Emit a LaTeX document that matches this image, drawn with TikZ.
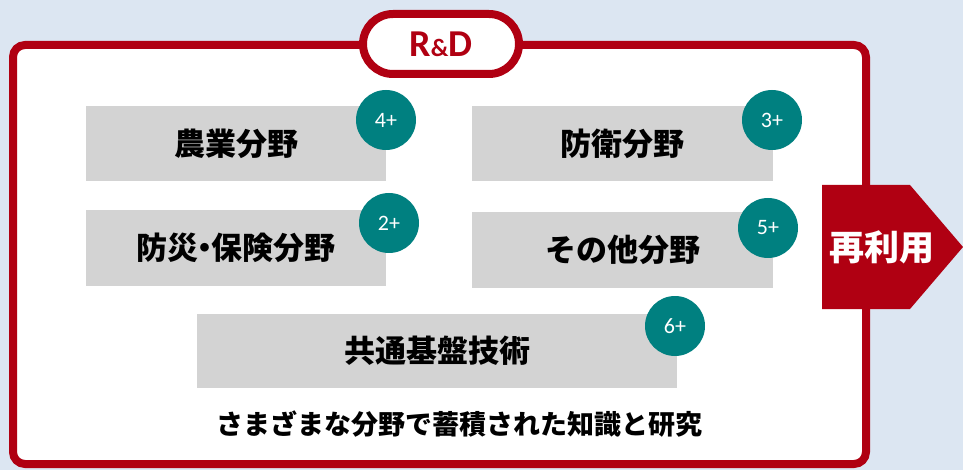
\documentclass[tikz,border=0pt]{standalone}
\usepackage{fontspec}
\newfontfamily\jp{Noto Sans CJK JP}
\newfontfamily\lat{Carlito}
\definecolor{bgblue}{HTML}{DCE6F2}
\definecolor{rdred}{HTML}{B00012}
\definecolor{boxgray}{HTML}{D3D3D3}
\definecolor{teal2}{HTML}{008080}
\begin{document}
\begin{tikzpicture}[x=1pt,y=-1pt,
  field/.style={fill=boxgray,draw=none,inner sep=0pt,font=\jp\bfseries\fontsize{31}{33}\selectfont,text=black},
  badge/.style={circle,fill=teal2,draw=none,minimum size=60pt,inner sep=0pt,text=white,font=\lat\fontsize{22}{24}\selectfont}]
\fill[bgblue] (0,0) rectangle (963,470);
\useasboundingbox (0,0) rectangle (963,470);
% outer frame
\draw[rdred,line width=8pt,fill=white,rounded corners=12pt] (13,45) rectangle (866,464);
% reuse arrow
\fill[rdred] (822,185) -- (910,185) -- (963,247) -- (910,309) -- (822,309) -- cycle;
\node[text=white,font=\jp\bfseries\fontsize{35}{37}\selectfont] (reuse) at (882,247) {再利用};
% R&D pill
\node[draw=rdred,line width=8pt,fill=white,rounded corners=30pt,minimum width=156pt,minimum height=60pt,inner sep=0pt,
  text=rdred,font=\lat\bfseries\fontsize{38}{40}\selectfont] (rd) at (441,44) {R{\fontsize{25}{27}\selectfont\&}D};
% fields
\node[field,minimum width=300pt,minimum height=75pt] (agri) at (236,143.5) {農業分野};
\node[field,minimum width=301pt,minimum height=75pt] (def) at (622.5,143.5) {防衛分野};
\node[field,minimum width=300pt,minimum height=76pt] (dis) at (236,248) {防災\hspace{-9pt}・\hspace{-9pt}保険分野};
\node[field,minimum width=301pt,minimum height=76pt] (oth) at (622.5,250) {その他分野};
\node[field,minimum width=480pt,minimum height=74pt] (com) at (437,351) {共通基盤技術};
% badges
\node[badge] (b4) at (386,120) {4+};
\node[badge] (b3) at (772,120) {3+};
\node[badge] (b2) at (389,223) {2+};
\node[badge] (b5) at (768,228) {5+};
\node[badge] (b6) at (675,326) {6+};
% caption
\node[font=\jp\bfseries\fontsize{27}{29}\selectfont,text=black] (cap) at (459,424) {さまざまな分野で蓄積された知識と研究};
\end{tikzpicture}
\end{document}
